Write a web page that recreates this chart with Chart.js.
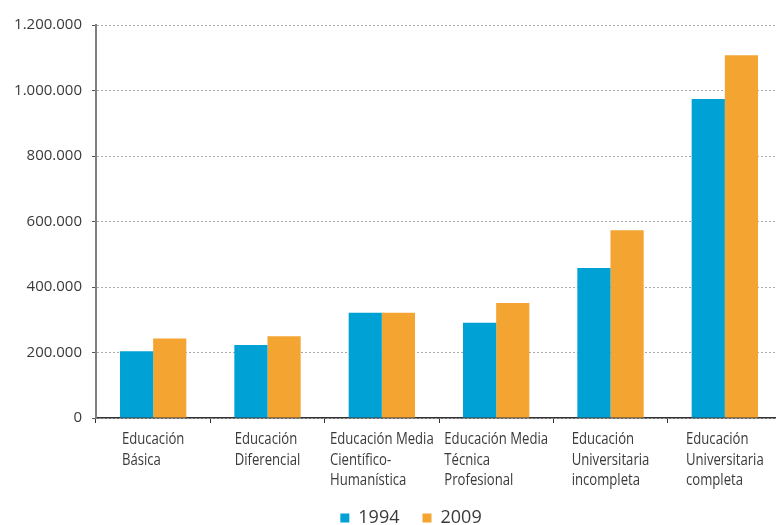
<!DOCTYPE html>
<html>
<head>
<meta charset="utf-8">
<script src="https://cdn.jsdelivr.net/npm/chart.js@4.4.1/dist/chart.umd.min.js"></script>
<style>
  html, body { margin: 0; padding: 0; background: #fff; overflow: hidden; }
  #wrap { width: 822px; height: 537px; }
</style>
</head>
<body>
<div id="wrap"><canvas id="chart"></canvas></div>
<script>
const categories = [
  ['Educación', 'Básica'],
  ['Educación', 'Diferencial'],
  ['Educación Media', 'Científico-', 'Humanística'],
  ['Educación Media', 'Técnica', 'Profesional'],
  ['Educación', 'Universitaria', 'incompleta'],
  ['Educación', 'Universitaria', 'completa']
];
const seriesNames = ['1994', '2009'];
const values1994 = [204000, 223000, 321000, 291000, 458000, 974000];
const values2009 = [243000, 250000, 321000, 351000, 573000, 1108000];
const yTicks = [0, 200000, 400000, 600000, 800000, 1000000, 1200000];

const BLUE = '#00a1d5';
const ORANGE = '#f4a431';
const TEXT = '#3a3a3a';

function fmt(v) {
  return String(v).replace(/\B(?=(\d{3})+(?!\d))/g, '.');
}

// x labels: centred block, lines left aligned, squeezed to look like a condensed face
const xLabels = {
  id: 'xLabels',
  afterDraw(chart) {
    const ctx = chart.ctx;
    const x = chart.scales.x;
    const squeeze = 0.82;
    ctx.save();
    ctx.font = '16px "Open Sans", sans-serif';
    ctx.fillStyle = TEXT;
    ctx.textAlign = 'left';
    ctx.textBaseline = 'alphabetic';
    categories.forEach((lines, i) => {
      const cx = x.getPixelForValue(i);
      const w = Math.max(...lines.map(l => ctx.measureText(l).width)) * squeeze;
      lines.forEach((l, j) => {
        ctx.save();
        ctx.translate(cx - w / 2, x.top + 26 + j * 20.7);
        ctx.scale(squeeze, 1);
        ctx.fillText(l, 0, 0);
        ctx.restore();
      });
    });
    ctx.restore();
  }
};

new Chart(document.getElementById('chart'), {
  type: 'bar',
  data: {
    labels: categories.map(c => c.join(' ')),
    datasets: [
      { label: seriesNames[0], data: values1994, backgroundColor: BLUE, borderWidth: 0 },
      { label: seriesNames[1], data: values2009, backgroundColor: ORANGE, borderWidth: 0 }
    ]
  },
  options: {
    responsive: true,
    maintainAspectRatio: false,
    animation: false,
    categoryPercentage: 0.58,
    barPercentage: 1,
    layout: { padding: { left: 0, right: 0, top: 25, bottom: 0 } },
    plugins: {
      tooltip: { enabled: false },
      legend: {
        position: 'bottom',
        labels: {
          boxWidth: 9,
          boxHeight: 9,
          padding: 23,
          color: TEXT,
          font: { family: '"Open Sans", sans-serif', size: 18, lineHeight: 1 }
        }
      }
    },
    scales: {
      x: {
        ticks: { display: false },
        grid: { display: true, drawOnChartArea: false, drawTicks: true, tickLength: 5, tickColor: '#333', tickWidth: 1 },
        border: { display: true, color: '#333', width: 1.5 },
        afterFit(scale) { scale.height = 68; }
      },
      y: {
        min: 0,
        max: 1200000,
        afterBuildTicks(scale) { scale.ticks = yTicks.map(v => ({ value: v })); },
        ticks: {
          padding: 10,
          color: TEXT,
          font: { family: '"Open Sans", sans-serif', size: 15 },
          callback: v => fmt(v)
        },
        grid: { color: '#a8a8a8', lineWidth: 1, tickLength: 4, tickColor: '#555', tickWidth: 1 },
        border: { display: true, color: '#808080', width: 2, dash: [2, 2] },
        afterFit(scale) { scale.width = 96; }
      },
      // empty right-hand axis, only to keep the plot/legend placement of the original
      yRight: {
        position: 'right',
        display: true,
        ticks: { display: false },
        grid: { display: false },
        border: { display: false },
        afterFit(scale) { scale.width = 40; }
      }
    }
  },
  plugins: [xLabels]
});
</script>
</body>
</html>
